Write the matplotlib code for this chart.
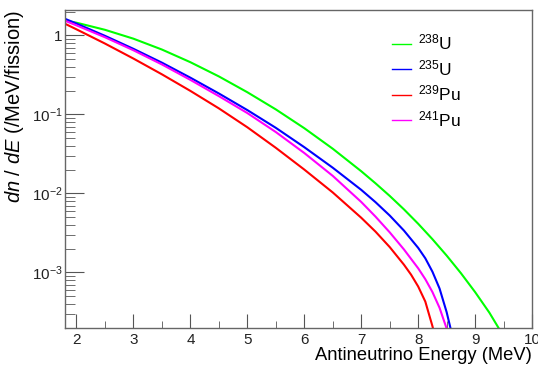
import numpy as np
import matplotlib
matplotlib.use("Agg")
import matplotlib.pyplot as plt
from matplotlib.ticker import FixedLocator, FuncFormatter, LogLocator, NullFormatter, MultipleLocator

plt.rcParams['font.family'] = ['Liberation Sans', 'DejaVu Sans']
plt.rcParams['mathtext.fontset'] = 'custom'
plt.rcParams['mathtext.rm'] = 'Liberation Sans'
plt.rcParams['mathtext.it'] = 'Liberation Sans:italic'

# antineutrino energy (MeV) and dn/dE values
e_u238 = [1.8, 2.0, 2.5, 3.0, 3.5, 4.0, 4.5, 5.0, 5.5, 6.0, 6.5, 7.0,
          7.25, 7.5, 7.75, 8.0, 8.25, 8.5, 8.75, 9.0, 9.25, 9.5]
u238 = [1.542, 1.445, 1.175, 0.907, 0.661, 0.457, 0.302, 0.1905, 0.1155, 0.0668, 0.0367, 0.01905,
        0.01341, 0.00928, 0.00627, 0.00412, 0.00263, 0.00163, 0.000977, 0.000562, 0.000309, 0.000155]

e_u235 = [1.8, 2.0, 2.5, 3.0, 3.5, 4.0, 4.5, 5.0, 5.5, 6.0, 6.5, 7.0,
          7.25, 7.5, 7.75, 8.0, 8.125, 8.25, 8.375, 8.5, 8.625]
u235 = [1.618, 1.409, 0.986, 0.675, 0.451, 0.291, 0.1837, 0.1132, 0.0675, 0.0384, 0.0211, 0.01107,
        0.00774, 0.00524, 0.00338, 0.00204, 0.001507, 0.00102, 0.000625, 0.000313, 0.000132]

e_pu239 = [1.8, 2.0, 2.5, 3.0, 3.5, 4.0, 4.5, 5.0, 5.5, 6.0, 6.5, 7.0,
           7.25, 7.5, 7.75, 7.875, 8.0, 8.125, 8.25, 8.375]
pu239 = [1.400, 1.191, 0.787, 0.508, 0.321, 0.198, 0.119, 0.0686, 0.0377, 0.0200, 0.01026, 0.00491,
         0.00328, 0.00209, 0.00125, 0.000935, 0.000662, 0.000427, 0.000209, 0.0000891]

e_pu241 = [1.8, 2.0, 2.5, 3.0, 3.5, 4.0, 4.5, 5.0, 5.5, 6.0, 6.5, 7.0,
           7.25, 7.5, 7.75, 8.0, 8.125, 8.25, 8.375, 8.5, 8.625]
pu241 = [1.528, 1.337, 0.946, 0.647, 0.428, 0.273, 0.170, 0.1038, 0.0597, 0.0324, 0.01663, 0.00778,
         0.00508, 0.00321, 0.00195, 0.001125, 0.00082, 0.000564, 0.000356, 0.000194, 0.0000867]

series = [(e_u238, u238, r'$^{238}$U', '#00ff00'),
          (e_u235, u235, r'$^{235}$U', '#0000ff'),
          (e_pu239, pu239, r'$^{239}$Pu', '#ff0000'),
          (e_pu241, pu241, r'$^{241}$Pu', '#ff00ff')]

fig = plt.figure(figsize=(5.38, 3.66), dpi=100)
ax = fig.add_axes([0.121, 0.105, 0.868, 0.868])

for e, vals, lab, col in series:
    ax.plot(e, vals, color=col, lw=1.5, label=lab)

ax.set_yscale('log')
ax.set_xlim(1.8, 10)
ax.set_ylim(2.0e-4, 2.1)

ax.xaxis.set_major_locator(MultipleLocator(1))
ax.xaxis.set_minor_locator(MultipleLocator(0.5))
ax.yaxis.set_major_locator(FixedLocator([1e-3, 1e-2, 1e-1, 1]))
ax.yaxis.set_minor_locator(LogLocator(base=10, subs=np.arange(2, 10)))
ax.yaxis.set_minor_formatter(NullFormatter())

def yfmt(v, pos):
    n = int(round(np.log10(v)))
    return '1' if n == 0 else r'$10^{%d}$' % n
ax.yaxis.set_major_formatter(FuncFormatter(yfmt))

ax.tick_params(axis='both', which='both', direction='in', top=False, right=False,
               color='#555555', labelsize=11, labelcolor='#222222')
ax.tick_params(axis='y', which='major', length=14, pad=2)
ax.tick_params(axis='y', which='minor', length=7)
ax.tick_params(axis='x', which='major', length=10, pad=4)
ax.tick_params(axis='x', which='minor', length=5)
for s in ax.spines.values():
    s.set_color('#666666')
    s.set_linewidth(1.0)

ax.set_xlabel('Antineutrino Energy (MeV)', loc='right', fontsize=13.2, labelpad=0)
ax.set_ylabel(r'$dn\ /\ dE$ (/MeV/fission)', loc='top', fontsize=14.5, labelpad=4)

leg = ax.legend(loc='upper left', bbox_to_anchor=(0.685, 0.95), frameon=False,
                fontsize=12.5, handlelength=1.1, labelspacing=0.33, handletextpad=0.4,
                borderaxespad=0)
for h in leg.get_lines():
    h.set_linewidth(1.0)

fig.savefig('out.png', dpi=100)
